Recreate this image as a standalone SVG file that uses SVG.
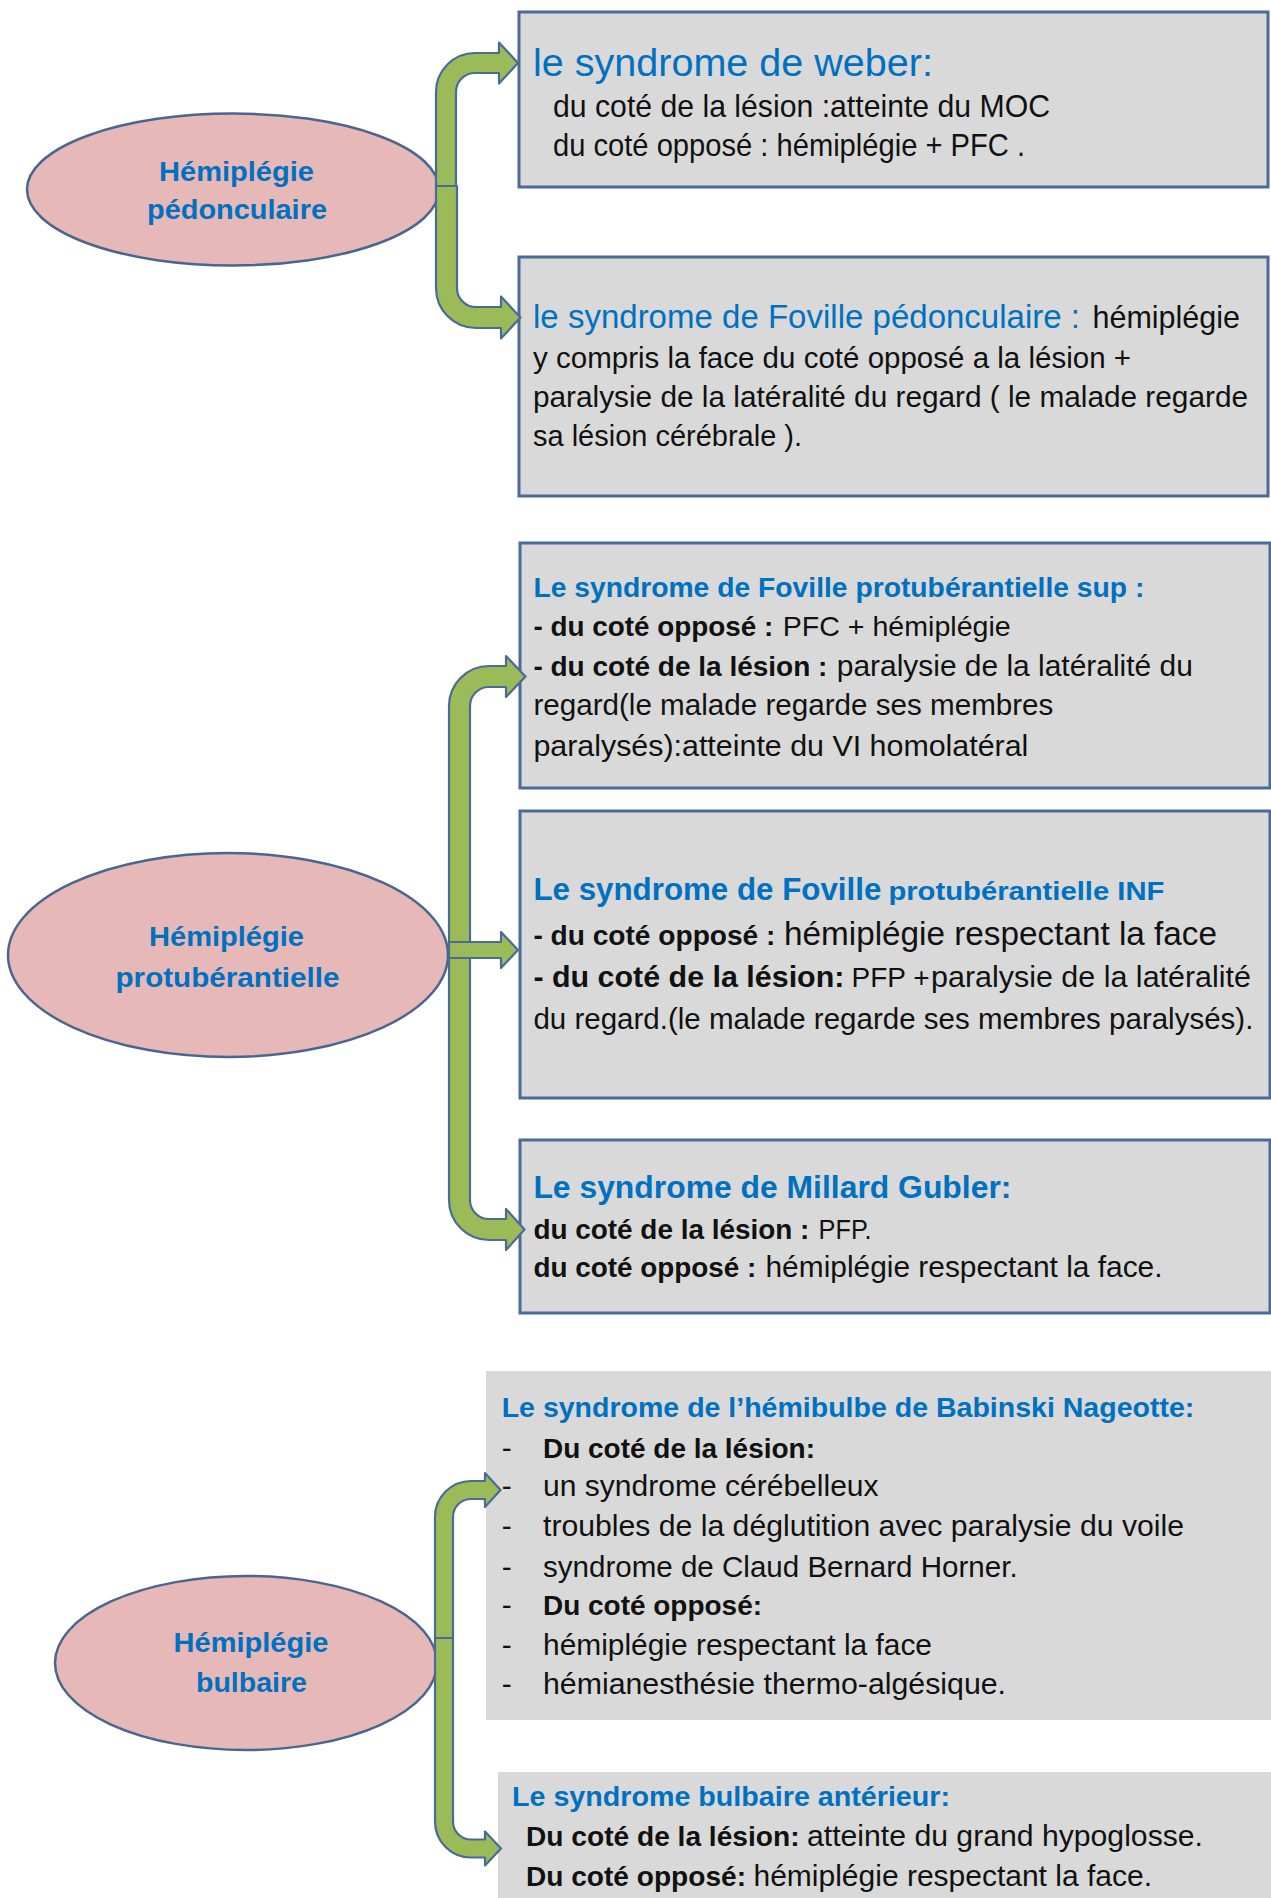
<svg xmlns="http://www.w3.org/2000/svg" width="1271" height="1898" viewBox="0 0 1271 1898">
<style>
text{font-family:"Liberation Sans",Arial,sans-serif;fill:#111}
.ell{fill:#E6B8B7;stroke:#4A6690;stroke-width:2.5}
.et{font-weight:bold;fill:#0070C0;font-size:27px;text-anchor:middle}
.box{fill:#D9D9D9;stroke:#4A6A98;stroke-width:3}
.boxn{fill:#D9D9D9}
.blue{fill:#0070C0}
.b{font-weight:bold}
.arr{fill:#9BBB59;stroke:#4A6A98;stroke-width:2.2;stroke-linejoin:round}
</style>
<rect width="1271" height="1898" fill="#fff"/>

<g id="node-e1">
<ellipse class="ell" cx="233" cy="189.5" rx="206" ry="76"/>
<text class="et" x="236.5" y="180.7" textLength="155" lengthAdjust="spacingAndGlyphs">Hémiplégie</text>
<text class="et" x="237" y="219" textLength="180" lengthAdjust="spacingAndGlyphs">pédonculaire</text>
</g>
<g id="node-e2">
<ellipse class="ell" cx="228" cy="955" rx="220" ry="102"/>
<text class="et" x="226.5" y="946" textLength="155" lengthAdjust="spacingAndGlyphs">Hémiplégie</text>
<text class="et" x="227.5" y="987" textLength="224" lengthAdjust="spacingAndGlyphs">protubérantielle</text>
</g>
<g id="node-e3">
<ellipse class="ell" cx="246" cy="1663" rx="191" ry="87"/>
<text class="et" x="251" y="1652" textLength="155" lengthAdjust="spacingAndGlyphs">Hémiplégie</text>
<text class="et" x="251.5" y="1692" textLength="111" lengthAdjust="spacingAndGlyphs">bulbaire</text>
</g>

<g id="node-weber">
<rect class="box" x="519" y="12" width="749" height="175"/>
<text class="blue" x="533" y="75.6" font-size="38" textLength="400" lengthAdjust="spacingAndGlyphs">le syndrome de weber:</text>
<text x="553" y="116.7" font-size="30.5" textLength="497" lengthAdjust="spacingAndGlyphs">du coté de la lésion :atteinte du MOC</text>
<text x="553" y="156" font-size="30.5" textLength="472" lengthAdjust="spacingAndGlyphs">du coté opposé : hémiplégie + PFC .</text>
</g>

<g id="node-foville-ped">
<rect class="box" x="519" y="257" width="749" height="239"/>
<text class="blue" x="533" y="328" font-size="32.5" textLength="547" lengthAdjust="spacingAndGlyphs">le syndrome de Foville pédonculaire :</text>
<text x="1092.5" y="328" font-size="30.5" textLength="147.5" lengthAdjust="spacingAndGlyphs">hémiplégie</text>
<text x="533" y="368" font-size="29.5" textLength="598" lengthAdjust="spacingAndGlyphs">y compris la face du coté opposé a la lésion +</text>
<text x="533" y="407" font-size="29.5" textLength="715" lengthAdjust="spacingAndGlyphs">paralysie de la latéralité du regard ( le malade regarde</text>
<text x="533" y="446" font-size="29.5" textLength="269" lengthAdjust="spacingAndGlyphs">sa lésion cérébrale ).</text>
</g>

<g id="node-foville-sup">
<rect class="box" x="520" y="543" width="750" height="245"/>
<text class="blue b" x="533.4" y="596.5" font-size="28" textLength="611" lengthAdjust="spacingAndGlyphs">Le syndrome de Foville protubérantielle sup :</text>
<text class="b" x="533.4" y="636" font-size="28" textLength="240" lengthAdjust="spacingAndGlyphs">- du coté opposé :</text>
<text x="782.7" y="636" font-size="28.5" textLength="228" lengthAdjust="spacingAndGlyphs">PFC + hémiplégie</text>
<text class="b" x="533.4" y="675.6" font-size="28" textLength="294" lengthAdjust="spacingAndGlyphs">- du coté de la lésion :</text>
<text x="836.8" y="675.6" font-size="29.5" textLength="356" lengthAdjust="spacingAndGlyphs">paralysie de la latéralité du</text>
<text x="533.4" y="715.4" font-size="29.5" textLength="520" lengthAdjust="spacingAndGlyphs">regard(le malade regarde ses membres</text>
<text x="533.4" y="755.7" font-size="29.5" textLength="495" lengthAdjust="spacingAndGlyphs">paralysés):atteinte du VI homolatéral</text>
</g>

<g id="node-foville-inf">
<rect class="box" x="520" y="811" width="750" height="287"/>
<text class="blue b" x="533.4" y="899.5" font-size="31" textLength="348" lengthAdjust="spacingAndGlyphs">Le syndrome de Foville</text>
<text class="blue b" x="888.4" y="899.5" font-size="26.5" textLength="276" lengthAdjust="spacingAndGlyphs">protubérantielle INF</text>
<text class="b" x="533.4" y="945" font-size="28" textLength="242" lengthAdjust="spacingAndGlyphs">- du coté opposé :</text>
<text x="784" y="945" font-size="32.5" textLength="433" lengthAdjust="spacingAndGlyphs">hémiplégie respectant la face</text>
<text class="b" x="533.4" y="987" font-size="30" textLength="311" lengthAdjust="spacingAndGlyphs">- du coté de la lésion:</text>
<text x="851.6" y="987" font-size="28" textLength="78" lengthAdjust="spacingAndGlyphs">PFP +</text>
<text x="931" y="987" font-size="29.5" textLength="320" lengthAdjust="spacingAndGlyphs">paralysie de la latéralité</text>
<text x="533.4" y="1028.5" font-size="29.5" textLength="720" lengthAdjust="spacingAndGlyphs">du regard.(le malade regarde ses membres paralysés).</text>
</g>

<g id="node-millard">
<rect class="box" x="520" y="1140" width="750" height="173"/>
<text class="blue b" x="533.4" y="1197.6" font-size="31" textLength="478" lengthAdjust="spacingAndGlyphs">Le syndrome de Millard Gubler:</text>
<text class="b" x="533.4" y="1239.4" font-size="28" textLength="276" lengthAdjust="spacingAndGlyphs">du coté de la lésion :</text>
<text x="818.6" y="1239.4" font-size="27" textLength="53" lengthAdjust="spacingAndGlyphs">PFP.</text>
<text class="b" x="533.4" y="1276.6" font-size="28" textLength="223" lengthAdjust="spacingAndGlyphs">du coté opposé :</text>
<text x="765.5" y="1276.6" font-size="29.5" textLength="397" lengthAdjust="spacingAndGlyphs">hémiplégie respectant la face.</text>
</g>

<g id="node-babinski">
<rect class="boxn" x="486" y="1371" width="785" height="349"/>
<text class="blue b" x="501.7" y="1417" font-size="28.5" textLength="692.6" lengthAdjust="spacingAndGlyphs">Le syndrome de l’hémibulbe de Babinski Nageotte:</text>
<g font-size="30">
<text x="501.7" y="1457.6">-</text>
<text x="501.7" y="1496">-</text>
<text x="501.7" y="1536">-</text>
<text x="501.7" y="1576.5">-</text>
<text x="501.7" y="1615">-</text>
<text x="501.7" y="1654.8">-</text>
<text x="501.7" y="1694">-</text>
<text class="b" x="543" y="1457.6" font-size="28" textLength="272" lengthAdjust="spacingAndGlyphs">Du coté de la lésion:</text>
<text x="543" y="1496" textLength="335.6" lengthAdjust="spacingAndGlyphs">un syndrome cérébelleux</text>
<text x="543" y="1536" textLength="641" lengthAdjust="spacingAndGlyphs">troubles de la déglutition avec paralysie du voile</text>
<text x="543" y="1576.5" textLength="474.6" lengthAdjust="spacingAndGlyphs">syndrome de Claud Bernard Horner.</text>
<text class="b" x="543" y="1615" font-size="28" textLength="219" lengthAdjust="spacingAndGlyphs">Du coté opposé:</text>
<text x="543" y="1654.8" textLength="389" lengthAdjust="spacingAndGlyphs">hémiplégie respectant la face</text>
<text x="543" y="1694" textLength="463" lengthAdjust="spacingAndGlyphs">hémianesthésie thermo-algésique.</text>
</g>
</g>

<g id="node-bulbaire-ant">
<rect class="boxn" x="498" y="1772" width="773" height="126"/>
<text class="blue b" x="512" y="1806" font-size="28.5" textLength="438" lengthAdjust="spacingAndGlyphs">Le syndrome bulbaire antérieur:</text>
<text class="b" x="526" y="1846" font-size="28" textLength="273.5" lengthAdjust="spacingAndGlyphs">Du coté de la lésion:</text>
<text x="807" y="1846" font-size="30" textLength="396" lengthAdjust="spacingAndGlyphs">atteinte du grand hypoglosse.</text>
<text class="b" x="526" y="1885.5" font-size="28" textLength="220" lengthAdjust="spacingAndGlyphs">Du coté opposé:</text>
<text x="753.5" y="1885.5" font-size="30" textLength="398.5" lengthAdjust="spacingAndGlyphs">hémiplégie respectant la face.</text>
</g>

<g id="connectors">
<path class="arr" d="M436,186 L436,92 A39,39 0 0 1 475,53 L499,53 L499,42.5 L518,63 L499,83.5 L499,73 L475,73 A19,19 0 0 0 456,92 L456,186 Z"/>
<path class="arr" d="M436,186 L436,288 A40,40 0 0 0 476,328 L501,328 L501,338.5 L520.5,317.5 L501,296.5 L501,307 L476,307 A19,19 0 0 1 457,288 L457,186 Z"/>
<path class="arr" d="M449,950 L449,706 A40,40 0 0 1 489,666 L506,666 L506,656 L525.5,676.5 L506,697 L506,687 L489,687 A19,19 0 0 0 470,706 L470,950 Z"/>
<path class="arr" d="M449,950 L449,1200 A40,40 0 0 0 489,1240 L506,1240 L506,1250 L524.5,1229.5 L506,1209 L506,1219 L489,1219 A19,19 0 0 1 470,1200 L470,950 Z"/>
<path class="arr" d="M449,942 L501,942 L501,932 L518,950 L501,968 L501,958 L449,958 Z"/>
<path class="arr" d="M435,1638 L435,1517 A36,36 0 0 1 471,1481 L485,1481 L485,1473 L500.5,1490 L485,1507 L485,1499 L471,1499 A18,18 0 0 0 453,1517 L453,1638 Z"/>
<path class="arr" d="M435,1638 L435,1821.5 A36,36 0 0 0 471,1857.5 L485,1857.5 L485,1865.5 L501,1848.5 L485,1831.5 L485,1839.5 L471,1839.5 A18,18 0 0 1 453,1821.5 L453,1638 Z"/>
</g>
</svg>
